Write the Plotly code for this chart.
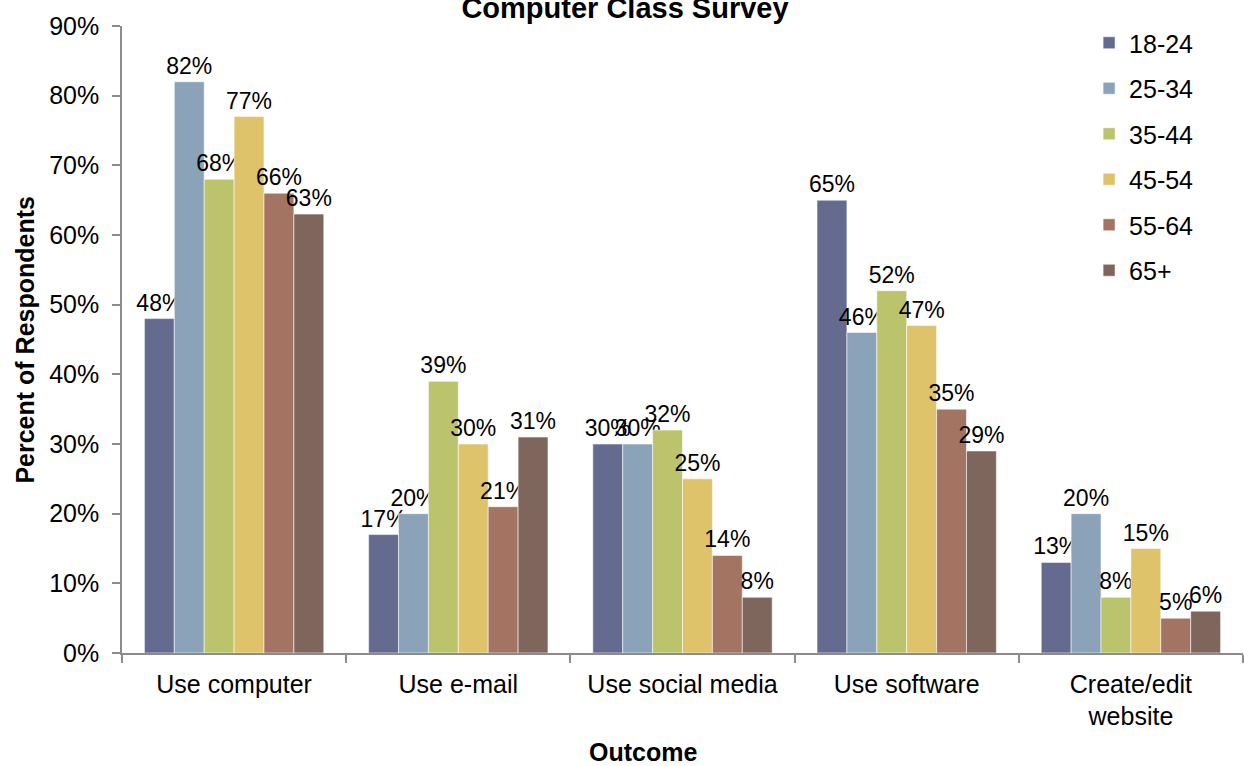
import plotly.graph_objects as go

categories = ["Use computer", "Use e-mail", "Use social media", "Use software", "Create/edit<br>website"]
age_groups = ["18-24", "25-34", "35-44", "45-54", "55-64", "65+"]
v_18_24 = [48, 17, 30, 65, 13]
v_25_34 = [82, 20, 30, 46, 20]
v_35_44 = [68, 39, 32, 52, 8]
v_45_54 = [77, 30, 25, 47, 15]
v_55_64 = [66, 21, 14, 35, 5]
v_65_plus = [63, 31, 8, 29, 6]
series = [v_18_24, v_25_34, v_35_44, v_45_54, v_55_64, v_65_plus]
colors = ["#656B8E", "#8BA3B8", "#BBC46C", "#DEC36B", "#A47462", "#7F665D"]
y_ticks = [0, 10, 20, 30, 40, 50, 60, 70, 80, 90]

FONT = "Liberation Sans, Arial, sans-serif"

fig = go.Figure()
for name, vals, col in zip(age_groups, series, colors):
    fig.add_trace(go.Bar(
        x=categories, y=vals, name=name,
        marker=dict(color=col, line=dict(color="rgba(255,255,255,0.55)", width=1)),
        text=[f"{v}%" for v in vals], textposition="outside",
        textfont=dict(family=FONT, size=23, color="black"),
        constraintext="none", cliponaxis=False, legendgroup=name,
    ))

fig.update_layout(
    width=1244, height=766,
    barmode="group", bargap=0.2, bargroupgap=0,
    plot_bgcolor="white", paper_bgcolor="white",
    margin=dict(l=122, r=1, t=26, b=113),
    font=dict(family=FONT, color="black"),
    title=dict(text="<b>Computer Class Survey</b>", x=0.5024, xanchor="center",
               y=0.9896, yanchor="middle", yref="container",
               font=dict(family=FONT, size=29, color="black")),
    legend=dict(x=0.8627, y=1.0 + 6 / 627, xanchor="left", yanchor="top",
                font=dict(family=FONT, size=25, color="black"),
                tracegroupgap=10, bgcolor="rgba(0,0,0,0)"),
    showlegend=True,
)
fig.update_xaxes(
    showline=True, linecolor="#8c8c8c", linewidth=1.5,
    ticks="outside", tickson="boundaries", ticklen=8, tickcolor="#8c8c8c", tickwidth=1.5,
    ticklabelstandoff=8,
    tickfont=dict(family=FONT, size=25, color="black"), showgrid=False,
)
fig.update_yaxes(
    range=[0, 90], tickvals=y_ticks, ticktext=[f"{t}%" for t in y_ticks],
    showline=True, linecolor="#8c8c8c", linewidth=1.5,
    ticks="outside", ticklen=8, tickcolor="#8c8c8c", tickwidth=1.5,
    ticklabelstandoff=8,
    tickfont=dict(family=FONT, size=25, color="black"), showgrid=False, zeroline=False,
)
fig.add_annotation(text="<b>Percent of Respondents</b>", xref="paper", yref="paper",
                   x=-(122 - 24) / 1122, y=0.5, textangle=-90, showarrow=False,
                   xanchor="center", yanchor="middle",
                   font=dict(family=FONT, size=25, color="black"))
fig.add_annotation(text="<b>Outcome</b>", xref="paper", yref="paper",
                   x=(643 - 122) / 1122, y=-(752 - 653) / 627, showarrow=False,
                   xanchor="center", yanchor="middle",
                   font=dict(family=FONT, size=25, color="black"))

fig.write_html("out.html", config={"displayModeBar": False},
               post_script="document.body.style.margin='0';")
